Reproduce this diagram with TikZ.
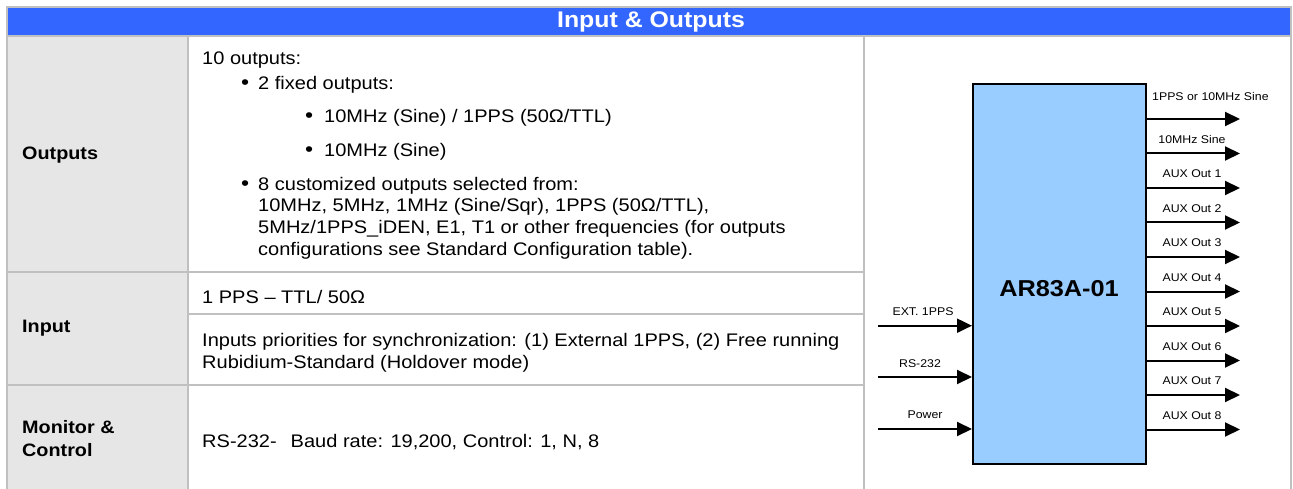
\documentclass[tikz,border=0pt]{standalone}
\usepackage{fontspec}
\setmainfont[FakeStretch=1.1]{Liberation Sans}
\usetikzlibrary{arrows.meta}
\definecolor{hdr}{HTML}{3366FF}
\definecolor{lab}{HTML}{E6E6E6}
\definecolor{gridc}{HTML}{C0C0C0}
\definecolor{boxblue}{HTML}{99CCFF}
\begin{document}
\begin{tikzpicture}[x=1pt,y=-1pt,
  body/.style={anchor=base west, inner sep=0, font=\fontsize{18.2}{22}\selectfont},
  bul/.style={anchor=base west, inner sep=0, font=\fontsize{21}{22}\selectfont},
  lbl/.style={anchor=west, inner sep=0, align=left, font=\bfseries\fontsize{18}{23}\selectfont},
  small/.style={inner sep=0, font=\fontsize{11.2}{13}\selectfont},
  arr/.style={line width=2pt, -{Triangle[length=15pt,width=14pt]}},
  gridline/.style={draw=gridc, line width=2pt}]
\useasboundingbox (0,0) rectangle (1293,489);
\fill[white] (0,0) rectangle (1293,489);
% header
\fill[hdr] (7,8) rectangle (1291,35);
\draw[gridline] (6,7) -- (1292,7);
\draw[gridline] (6,36) -- (1292,36);
\node[font=\bfseries\fontsize{22.6}{25}\selectfont, text=white, inner sep=0] (hdrtext) at (651,21.5) {Input \& Outputs};
% left label column
\fill[lab] (7,37) rectangle (188,489);
\draw[gridline] (7,7) -- (7,489);
\draw[gridline] (188,37) -- (188,489);
\draw[gridline] (864,37) -- (864,489);
\draw[gridline] (1291,7) -- (1291,489);
\draw[gridline] (7,272) -- (864,272);
\draw[gridline] (188,314) -- (864,314);
\draw[gridline] (7,385) -- (864,385);
% labels
\node[lbl] (lout) at (22,155) {Outputs};
\node[lbl] (lin) at (22,328) {Input};
\node[lbl] (lmon) at (22,438.5) {Monitor \&\\Control};
% outputs text
\node[body] (t1) at (202,64.5) {10 outputs:};
\node[bul] (b1) at (241,90) {•};
\node[body] (t2) at (258,89.5) {2 fixed outputs:};
\node[bul] (b2) at (305,123) {•};
\node[body] (t3) at (324,122.5) {10MHz (Sine) / 1PPS (50Ω/TTL)};
\node[bul] (b3) at (305,157) {•};
\node[body] (t4) at (324,156.5) {10MHz (Sine)};
\node[bul] (b4) at (241,191) {•};
\node[body] (t5) at (258,190.5) {8 customized outputs selected from:};
\node[body] (t6) at (258,211.5) {10MHz, 5MHz, 1MHz (Sine/Sqr), 1PPS (50Ω/TTL),};
\node[body] (t7) at (258,233.5) {5MHz/1PPS\_iDEN, E1, T1 or other frequencies (for outputs};
\node[body] (t8) at (258,255.5) {configurations see Standard Configuration table).};
% input text
\node[body] (t9) at (202,303) {1 PPS – TTL/ 50Ω};
\node[body] (t10) at (202,346.5) {Inputs priorities for synchronization: (1) External 1PPS, (2) Free running};
\node[body] (t11) at (202,368.5) {Rubidium-Standard (Holdover mode)};
% monitor text
\node[body] (t12) at (202,447.5) {RS-232-\hspace{14pt}Baud rate: 19,200, Control: 1, N, 8};
% diagram
\node[draw, line width=2pt, fill=boxblue, minimum width=173pt, minimum height=380pt, inner sep=0] (box) at (1059.5,274) {};
\node[font=\bfseries\fontsize{23}{26}\selectfont, inner sep=0] (title) at (1059,289) {AR83A-01};
% outputs
\foreach \n/\yy in {1/119,2/153.5,3/188,4/222.5,5/257,6/291.5,7/326,8/360.5,9/395,10/429.5}{
  \coordinate (o\n) at (1240,\yy);
  \draw[arr] (box.east |- o\n) -- (o\n);
}
\node[small, anchor=west] (lo1) at (1152,96.7) {1PPS or 10MHz Sine};
\node[small] (lo2) at (1192,139.5) {10MHz Sine};
\foreach \n/\k in {3/1,4/2,5/3,6/4,7/5,8/6,9/7,10/8}{
  \node[small] (lo\n) at ([yshift=14pt]o\n -| 1192,0) {AUX Out \k};
}
% inputs
\coordinate (i1) at (878,325.7);
\coordinate (i2) at (878,377);
\coordinate (i3) at (878,429);
\draw[arr] (i1) -- (i1 -| box.west);
\draw[arr] (i2) -- (i2 -| box.west);
\draw[arr] (i3) -- (i3 -| box.west);
\node[small] (li1) at (923,311.7) {EXT. 1PPS};
\node[small] (li2) at (920,363.7) {RS-232};
\node[small] (li3) at (925,415) {Power};
\end{tikzpicture}
\end{document}
